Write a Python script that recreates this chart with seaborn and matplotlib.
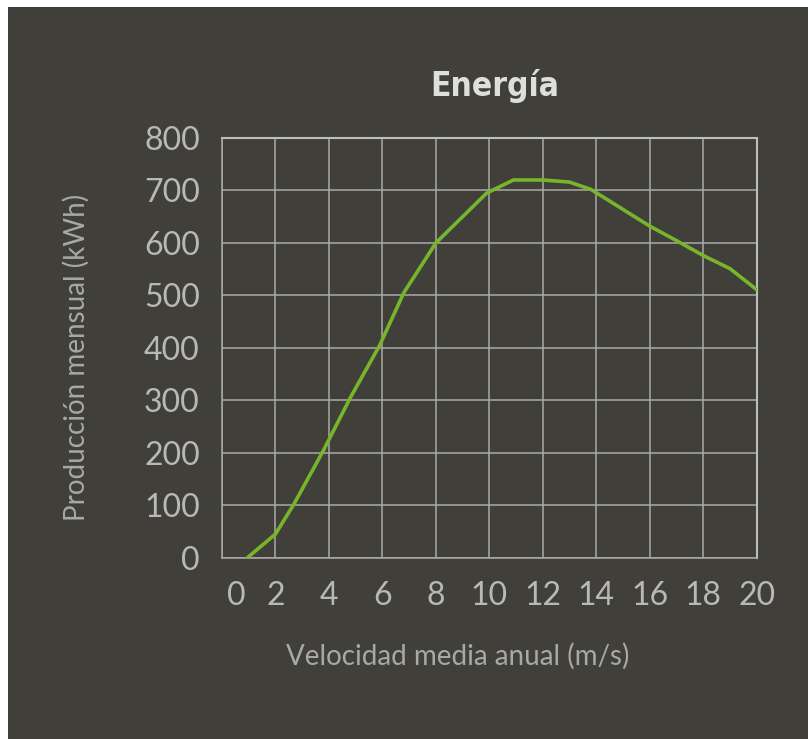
import matplotlib
matplotlib.use("Agg")
import matplotlib.pyplot as plt
from matplotlib.patches import Rectangle
from matplotlib.transforms import ScaledTranslation
import seaborn as sns
import pandas as pd

# Monthly energy production vs. mean annual wind speed
speed = [0.95, 2.0, 2.7, 3.8, 4.8, 5.9, 6.8, 8.0, 9.9, 10.9, 12.0, 13.0, 13.8,
         16.0, 16.8, 18.0, 19.0, 20.0]
production = [0, 45, 103, 205, 305, 405, 505, 600, 695, 720, 720, 716, 702,
              632, 610, 576, 551, 511]
x_ticks = [0, 2, 4, 6, 8, 10, 12, 14, 16, 18, 20]
y_ticks = [0, 100, 200, 300, 400, 500, 600, 700, 800]

BG = "#403f3a"
GRID = "#a9a9a9"
TICK_TXT = "#b8b8b8"
LABEL_TXT = "#a8a8a8"
TITLE_TXT = "#dedede"
LINE = "#77b52a"

sns.set_style("dark")
plt.rcParams["font.family"] = ["Lato", "DejaVu Sans"]

fig = plt.figure(figsize=(8.08, 7.39), dpi=100, facecolor="white")
fig.patches.append(Rectangle((8 / 808, 0), 1, 1 - 7 / 739, transform=fig.transFigure,
                             facecolor=BG, edgecolor="none", zorder=-10))

ax = fig.add_axes([222 / 808, 1 - 557.7 / 739, 534.7 / 808, 419.7 / 739])
ax.set_facecolor(BG)

df = pd.DataFrame({"speed": speed, "production": production})
sns.lineplot(data=df, x="speed", y="production", ax=ax, color=LINE,
             linewidth=2.6, sort=False, zorder=5)

ax.set_xlim(0, 20)
ax.set_ylim(0, 800)
ax.set_xticks(x_ticks)
ax.set_yticks(y_ticks)
ax.set_xticklabels([str(v) for v in x_ticks])
ax.set_yticklabels([str(v) for v in y_ticks])
ax.grid(True, color=GRID, linewidth=1.1)
ax.set_axisbelow(True)
for side, sp in ax.spines.items():
    sp.set_visible(True)
    sp.set_color(GRID if side in ("left", "bottom") else "#bdbdbd")
    sp.set_linewidth(1.1 if side in ("left", "bottom") else 1.5)

ax.tick_params(axis="both", length=0, labelcolor=TICK_TXT, labelsize=23)
ax.tick_params(axis="x", pad=17)
ax.tick_params(axis="y", pad=16)

# nudge the "0" label on the x axis to the right
first = ax.get_xticklabels()[0]
first.set_transform(first.get_transform() + ScaledTranslation(0.14, 0, fig.dpi_scale_trans))

ax.set_xlabel("Velocidad media anual (m/s)", color=LABEL_TXT, fontsize=20, va="center")
ax.xaxis.set_label_coords((458 - 222) / 534.7, (557.7 - 656) / 419.7)
ax.set_ylabel("Producción mensual (kWh)", color=LABEL_TXT, fontsize=20, va="center")
ax.yaxis.set_label_coords((76 - 222) / 534.7, (557.7 - 357) / 419.7)

fig.text(495 / 808, 1 - 86 / 739, "Energía", color=TITLE_TXT, fontsize=24,
         fontweight="bold", fontstretch="condensed", ha="center", va="center",
         family=["DejaVu Sans"])

fig.savefig("out.png", dpi=100, facecolor=fig.get_facecolor())
